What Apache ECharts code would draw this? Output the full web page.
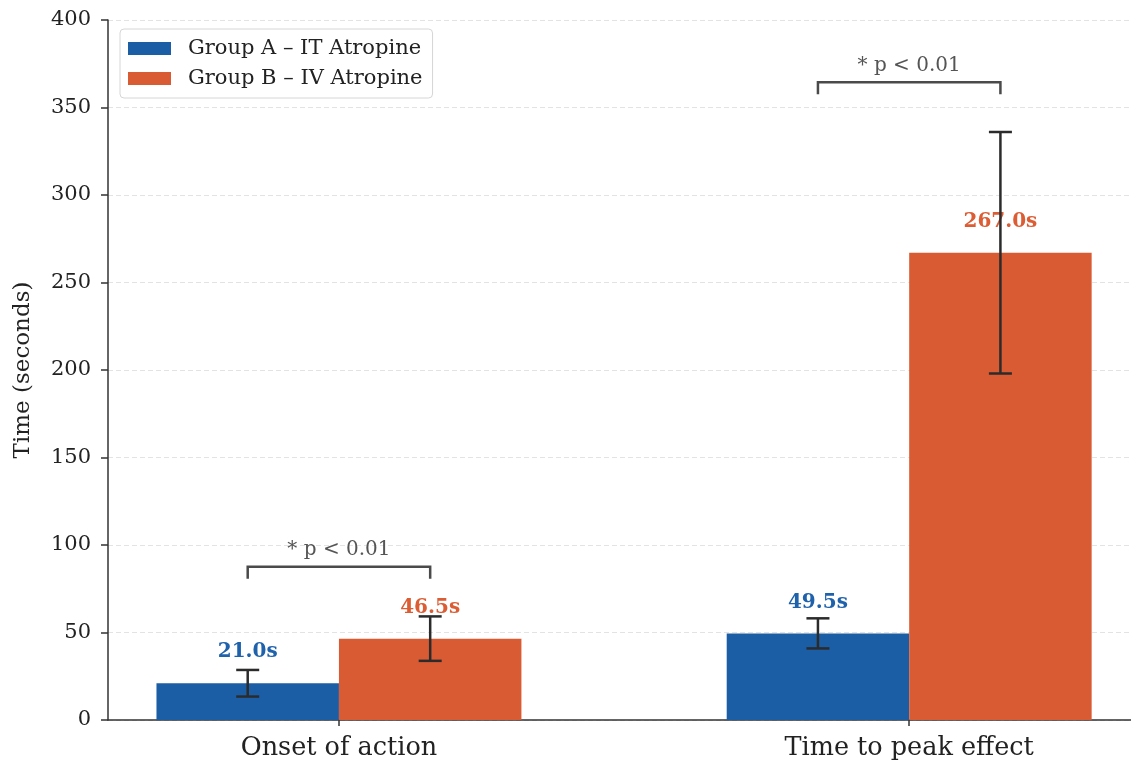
<!DOCTYPE html>
<html>
<head>
<meta charset="utf-8">
<script src="https://cdn.jsdelivr.net/npm/echarts@6/dist/echarts.min.js"></script>
<style>
  html, body { margin: 0; padding: 0; background: #fff; }
  #chart { width: 1131px; height: 761px; }
</style>
</head>
<body>
<div id="chart"></div>
<script>
// Outcome categories and group summaries (mean ± SD, seconds)
const categories = ['Onset of action', 'Time to peak effect'];
const groupNames = ['Group A – IT Atropine', 'Group B – IV Atropine'];
const groupAMeans = [21.0, 49.5];
const groupBMeans = [46.5, 267.0];
const groupASD = [7.6, 8.6];
const groupBSD = [12.7, 69.0];
// Significance annotations: category index, bracket height, text
const sigCategory = [0, 1];
const sigHeight = [87.6, 364.4];
const sigText = ['* p < 0.01', '* p < 0.01'];
const yTicks = [0, 50, 100, 150, 200, 250, 300, 350, 400];

const COLORS = ['#1B5EA6', '#D95B33'];
const FONT = 'DejaVu Serif';
const BAR_FRAC = 0.32;          // bar width as a fraction of category spacing
const HALF = BAR_FRAC / 2;

const barData = (means) => means.map((v, i) => [i, v]);

// Error bar rows: [xCenter, low, high]
const errRows = [];
categories.forEach((c, i) => {
  errRows.push([i - HALF, groupAMeans[i] - groupASD[i], groupAMeans[i] + groupASD[i]]);
  errRows.push([i + HALF, groupBMeans[i] - groupBSD[i], groupBMeans[i] + groupBSD[i]]);
});

// Bracket rows: [xLeft, xRight, y, label]
const sigRows = sigCategory.map((ci, k) => [ci - HALF, ci + HALF, sigHeight[k], sigText[k]]);

const chart = echarts.init(document.getElementById('chart'), null, { renderer: 'canvas' });

const option = {
  backgroundColor: '#ffffff',
  animation: false,
  textStyle: { fontFamily: FONT },
  grid: { left: 108, right: 0, top: 20, bottom: 41, outerBoundsMode: 'none' },
  legend: {
    orient: 'vertical',
    left: 120,
    top: 29,
    data: groupNames,
    icon: 'rect',
    itemWidth: 43,
    itemHeight: 13,
    itemGap: 9,
    padding: [9, 10, 9, 8],
    backgroundColor: '#ffffff',
    borderColor: '#d6d6d6',
    borderWidth: 1,
    borderRadius: 4,
    textStyle: { fontFamily: FONT, fontSize: 21, color: '#222', padding: [0, 0, 0, 12] }
  },
  xAxis: {
    type: 'value',
    min: -0.405,
    max: 1.389,
    splitLine: { show: false },
    axisLine: { show: true, onZero: false, lineStyle: { color: '#333', width: 1.5 } },
    axisTick: { show: true, customValues: [0, 1], length: 6, lineStyle: { color: '#333', width: 1.5 } },
    axisLabel: {
      customValues: [0, 1],
      formatter: (v) => categories[Math.round(v)] || '',
      fontFamily: FONT, fontSize: 25.5, color: '#222', margin: 15
    }
  },
  yAxis: {
    type: 'value',
    min: 0,
    max: 400,
    interval: 50,
    name: 'Time (seconds)',
    nameLocation: 'middle',
    nameGap: 73,
    nameTextStyle: { fontFamily: FONT, fontSize: 23, color: '#222' },
    axisLine: { show: true, onZero: false, lineStyle: { color: '#333', width: 1.5 } },
    axisTick: { show: true, length: 7, lineStyle: { color: '#333', width: 1.5 } },
    axisLabel: {
      fontFamily: FONT, fontSize: 21, color: '#222', margin: 17,
      formatter: (v) => yTicks.includes(v) ? String(v) : ''
    },
    splitLine: { show: true, lineStyle: { color: '#e3e3e3', width: 1, type: [5, 3] } }
  },
  series: [
    {
      name: groupNames[0],
      type: 'bar',
      data: barData(groupAMeans),
      barWidth: (BAR_FRAC * 100) + '%',
      barGap: '0%',
      itemStyle: { color: COLORS[0] },
      z: 2,
      label: {
        show: true, position: 'top', distance: 21,
        formatter: (p) => p.value[1].toFixed(1) + 's',
        fontFamily: FONT, fontWeight: 'bold', fontSize: 20, color: '#1F62AC'
      }
    },
    {
      name: groupNames[1],
      type: 'bar',
      data: barData(groupBMeans),
      barWidth: (BAR_FRAC * 100) + '%',
      barGap: '0%',
      itemStyle: { color: COLORS[1] },
      z: 2,
      label: {
        show: true, position: 'top', distance: 21,
        formatter: (p) => p.value[1].toFixed(1) + 's',
        fontFamily: FONT, fontWeight: 'bold', fontSize: 20, color: '#DC5C33'
      }
    },
    {
      // Error bars with caps
      type: 'custom',
      z: 10,
      silent: true,
      data: errRows,
      encode: { x: 0, y: [1, 2] },
      renderItem: (params, api) => {
        const lo = api.coord([api.value(0), api.value(1)]);
        const hi = api.coord([api.value(0), api.value(2)]);
        const cap = 11.5;
        const style = { stroke: '#2b2b2b', lineWidth: 2.5, fill: null };
        return {
          type: 'group',
          children: [
            { type: 'line', shape: { x1: lo[0], y1: lo[1], x2: hi[0], y2: hi[1] }, style },
            { type: 'line', shape: { x1: hi[0] - cap, y1: hi[1], x2: hi[0] + cap, y2: hi[1] }, style },
            { type: 'line', shape: { x1: lo[0] - cap, y1: lo[1], x2: lo[0] + cap, y2: lo[1] }, style }
          ]
        };
      }
    },
    {
      // Significance brackets
      type: 'custom',
      z: 10,
      silent: true,
      data: sigRows,
      encode: { x: [0, 1], y: 2 },
      renderItem: (params, api) => {
        const y = api.value(2);
        const a = api.coord([api.value(0), y]);
        const b = api.coord([api.value(1), y]);
        const drop = 12;
        const style = { stroke: '#4a4a4a', lineWidth: 2.5, fill: null };
        return {
          type: 'group',
          children: [
            { type: 'polyline', shape: { points: [[a[0], a[1] + drop], [a[0], a[1]], [b[0], b[1]], [b[0], b[1] + drop]] }, style },
            {
              type: 'text',
              style: {
                text: sigRows[params.dataIndex][3],
                x: (a[0] + b[0]) / 2, y: a[1] - 7,
                align: 'center', verticalAlign: 'bottom',
                fontFamily: FONT, fontSize: 20, fill: '#555'
              }
            }
          ]
        };
      }
    }
  ]
};

chart.setOption(option);
</script>
</body>
</html>
